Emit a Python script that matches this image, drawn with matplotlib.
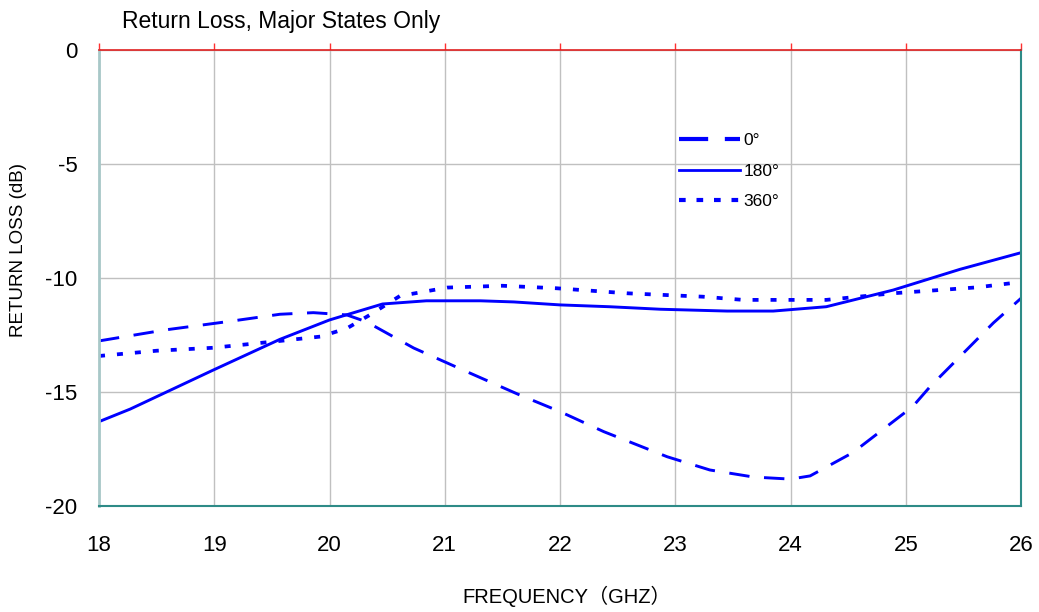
import numpy as np
import matplotlib
matplotlib.use("Agg")
import matplotlib.pyplot as plt
from matplotlib.lines import Line2D

plt.rcParams["font.family"] = ["Liberation Sans", "Noto Sans CJK SC", "DejaVu Sans"]

# ============================================================
# ДАННЫЕ
# ============================================================

freq_0 = [18.0, 18.57, 19.15, 19.57, 19.86, 20.15, 20.32, 20.73, 21.16, 21.65, 22.0,
          22.38, 22.93, 23.30, 23.68, 24.0, 24.17, 24.54, 24.89, 25.06, 25.21, 25.44,
          25.76, 26.0]
rl_0 = [-12.76, -12.28, -11.89, -11.59, -11.52, -11.62, -11.92, -13.07, -14.04, -15.13,
        -15.86, -16.74, -17.84, -18.42, -18.73, -18.82, -18.68, -17.66, -16.3, -15.64,
        -14.77, -13.6, -11.97, -10.89]

freq_180 = [18.0, 18.27, 18.99, 19.57, 20.0, 20.46, 20.84, 21.31, 21.6, 22.0, 22.43,
            22.87, 23.45, 23.85, 24.31, 24.89, 25.47, 26.0]
rl_180 = [-16.3, -15.75, -14.04, -12.69, -11.84, -11.14, -11.0, -11.0, -11.05, -11.18,
          -11.26, -11.37, -11.45, -11.45, -11.26, -10.53, -9.62, -8.89]

freq_360 = [18.0, 18.5, 18.99, 19.57, 19.92, 20.15, 20.35, 20.61, 21.02, 21.5, 21.97,
            22.11, 22.58, 23.24, 23.59, 24.31, 24.89, 25.62, 25.96]
rl_360 = [-13.42, -13.19, -13.06, -12.76, -12.57, -12.21, -11.62, -10.79, -10.42, -10.34,
          -10.45, -10.5, -10.67, -10.82, -10.96, -10.96, -10.67, -10.41, -10.2]

x_ticks = [18, 19, 20, 21, 22, 23, 24, 25, 26]
y_ticks = [0, -5, -10, -15, -20]

# ============================================================
# РИСУЕМ
# ============================================================

fig = plt.figure(figsize=(10.39, 6.12), dpi=100)
ax = fig.add_axes([0.0953, 0.1732, 0.8874, 0.7451])

blue = "#0000ff"
ax.plot(freq_0, rl_0, color=blue, lw=2.1, linestyle=(0, (7, 5)), label="0°")
ax.plot(freq_180, rl_180, color=blue, lw=2.1, linestyle="-", label="180°")
ax.plot(freq_360, rl_360, color=blue, lw=2.7, linestyle=(0, (1.6, 3.2)), label="360°")

ax.set_xlim(18, 26)
ax.set_ylim(-20, 0)
ax.set_xticks(x_ticks)
ax.set_yticks(y_ticks)
ax.set_xticklabels([str(t) for t in x_ticks], fontsize=16)
ax.set_yticklabels([str(t) for t in y_ticks], fontsize=16)

ax.grid(True, color="#c0c0c0", lw=1.0)
ax.set_axisbelow(True)

ax.tick_params(axis="x", bottom=False, top=True, direction="out", length=5,
               color="#ff3030", width=1.0, pad=16)
ax.tick_params(axis="y", left=False, pad=12)

ax.spines["top"].set_color("#e02020")
ax.spines["top"].set_linewidth(1.2)
ax.spines["left"].set_color("#a8c8c8")
ax.spines["left"].set_linewidth(2.0)
ax.spines["bottom"].set_color("#2e8b87")
ax.spines["bottom"].set_linewidth(1.5)
ax.spines["right"].set_color("#2e8b87")
ax.spines["right"].set_linewidth(1.5)

ax.set_ylabel("RETURN LOSS (dB)", fontsize=13.5)
ax.yaxis.set_label_coords(-0.078, 0.561)
ax.set_xlabel("FREQUENCY（GHZ）", fontsize=14.5)
ax.xaxis.set_label_coords(0.507, -0.175)

fig.text(0.1175, 0.965, "Return Loss, Major States Only", fontsize=16.5, va="center")

handles = [
    Line2D([], [], color=blue, lw=3.0, linestyle=(0, (7, 4))),
    Line2D([], [], color=blue, lw=2.0, linestyle="-"),
    Line2D([], [], color=blue, lw=3.0, linestyle=(0, (1.6, 2.6))),
]
ax.legend(handles, ["0°", "180°", "360°"], loc="upper left",
          bbox_to_anchor=(0.612, 0.853), frameon=False, fontsize=12.5,
          handlelength=3.5, handletextpad=0.2, labelspacing=0.9)

plt.savefig("out.png", dpi=100)
